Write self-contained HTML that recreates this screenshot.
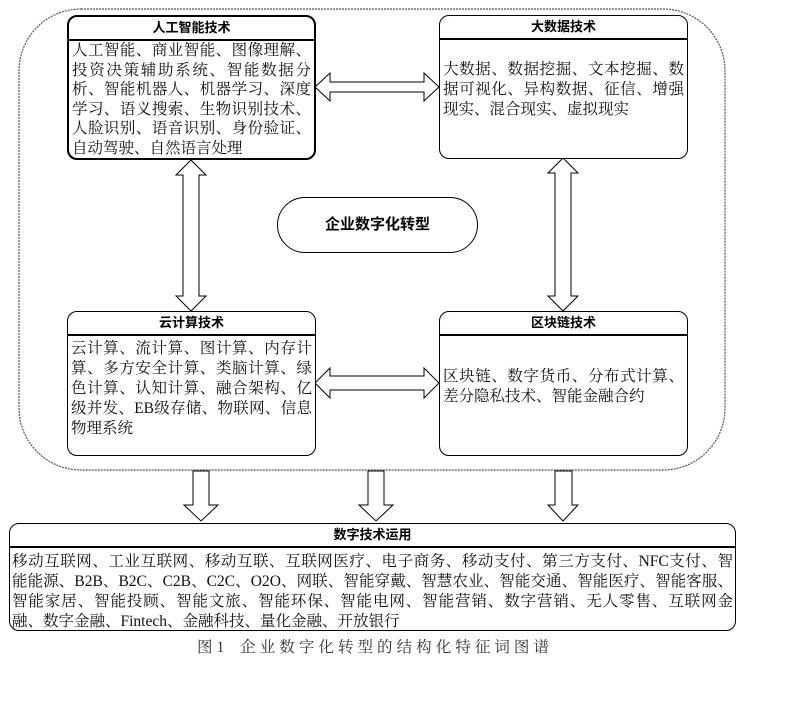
<!DOCTYPE html>
<html><head><meta charset="utf-8"><style>
body{margin:0;width:809px;height:726px;background:#fff;position:relative;font-family:"Liberation Serif","Noto Serif CJK SC",serif;overflow:hidden}
.box{position:absolute;border:1.5px solid #000;border-radius:10px;background:#fff;box-sizing:border-box}
.hd{height:22px;border-bottom:2px solid #000;text-align:center;font:bold 13px/21px "Liberation Sans","Noto Sans CJK SC",sans-serif}
.tx{font-size:15.5px;line-height:20px;padding:0 3px;color:#111}
.tx div{text-align:justify;text-align-last:justify;white-space:nowrap}
.tx div.l{text-align-last:left}
.abs{position:absolute}
</style></head><body>
<svg class="abs" style="left:0;top:0" width="809" height="726">
<rect x="19" y="9" width="706" height="461" rx="62" fill="none" stroke="#555" stroke-width="1.2" stroke-dasharray="2,1"/>
<g fill="#fff" stroke="#000" stroke-width="1">
<polygon points="315,87 330,73 330,82 424,82 424,73 439,87 424,101 424,92 330,92 330,101"/>
<polygon points="315,383 330,368 330,376 424,376 424,368 439,383 424,398 424,390 330,390 330,398"/>
<polygon points="191,160 206,175 199,175 199,296 206,296 191,311 176,296 183,296 183,175 176,175"/>
<polygon points="563,158 578,173 571,173 571,296 578,296 563,311 548,296 555,296 555,173 548,173"/>
<polygon points="193,471 209,471 209,505 218,505 201,521 184,505 193,505"/>
<polygon points="368,471 384,471 384,505 393,505 376,521 359,505 368,505"/>
<polygon points="555,471 572,471 572,505 578,505 563,521 548,505 555,505"/>
</g>
</svg>
<div class="abs" style="left:277px;top:197px;width:201px;height:56px;border:1.2px solid #000;border-radius:28px;box-sizing:border-box;text-align:center;font:bold 15px/54px 'Liberation Sans','Noto Sans CJK SC',sans-serif">企业数字化转型</div>

<div class="box" style="left:67px;top:15px;width:249px;height:145px;border-width:2px">
<div class="hd">人工智能技术</div>
<div class="tx" style="margin-top:0;line-height:19.6px">
<div>人工智能、商业智能、图像理解、</div><div>投资决策辅助系统、智能数据分</div><div>析、智能机器人、机器学习、深度</div><div>学习、语义搜索、生物识别技术、</div><div>人脸识别、语音识别、身份验证、</div><div class="l">自动驾驶、自然语言处理</div></div></div>

<div class="box" style="left:439px;top:15px;width:249px;height:144px">
<div class="hd">大数据技术</div>
<div class="tx" style="margin-top:20px">
<div>大数据、数据挖掘、文本挖掘、数</div><div>据可视化、异构数据、征信、增强</div><div class="l">现实、混合现实、虚拟现实</div></div></div>

<div class="box" style="left:67px;top:311px;width:249px;height:145px">
<div class="hd">云计算技术</div>
<div class="tx" style="margin-top:3px">
<div>云计算、流计算、图计算、内存计</div><div>算、多方安全计算、类脑计算、绿</div><div>色计算、认知计算、融合架构、亿</div><div>级并发、EB级存储、物联网、信息</div><div class="l">物理系统</div></div></div>

<div class="box" style="left:439px;top:311px;width:249px;height:145px">
<div class="hd">区块链技术</div>
<div class="tx" style="margin-top:31px">
<div>区块链、数字货币、分布式计算、</div><div class="l">差分隐私技术、智能金融合约</div></div></div>

<div class="box" style="left:9px;top:523px;width:727px;height:108px">
<div class="hd">数字技术运用</div>
<div class="tx" style="margin-top:4px;padding:0 2px">
<div>移动互联网、工业互联网、移动互联、互联网医疗、电子商务、移动支付、第三方支付、NFC支付、智</div><div>能能源、B2B、B2C、C2B、C2C、O2O、网联、智能穿戴、智慧农业、智能交通、智能医疗、智能客服、</div><div>智能家居、智能投顾、智能文旅、智能环保、智能电网、智能营销、数字营销、无人零售、互联网金</div><div class="l">融、数字金融、Fintech、金融科技、量化金融、开放银行</div></div></div>

<div class="abs" style="left:197px;top:638px;width:352px;font-size:15.5px;line-height:20px;color:#333;text-align:justify;text-align-last:justify;white-space:nowrap">图1&nbsp; 企业数字化转型的结构化特征词图谱</div>
</body></html>
